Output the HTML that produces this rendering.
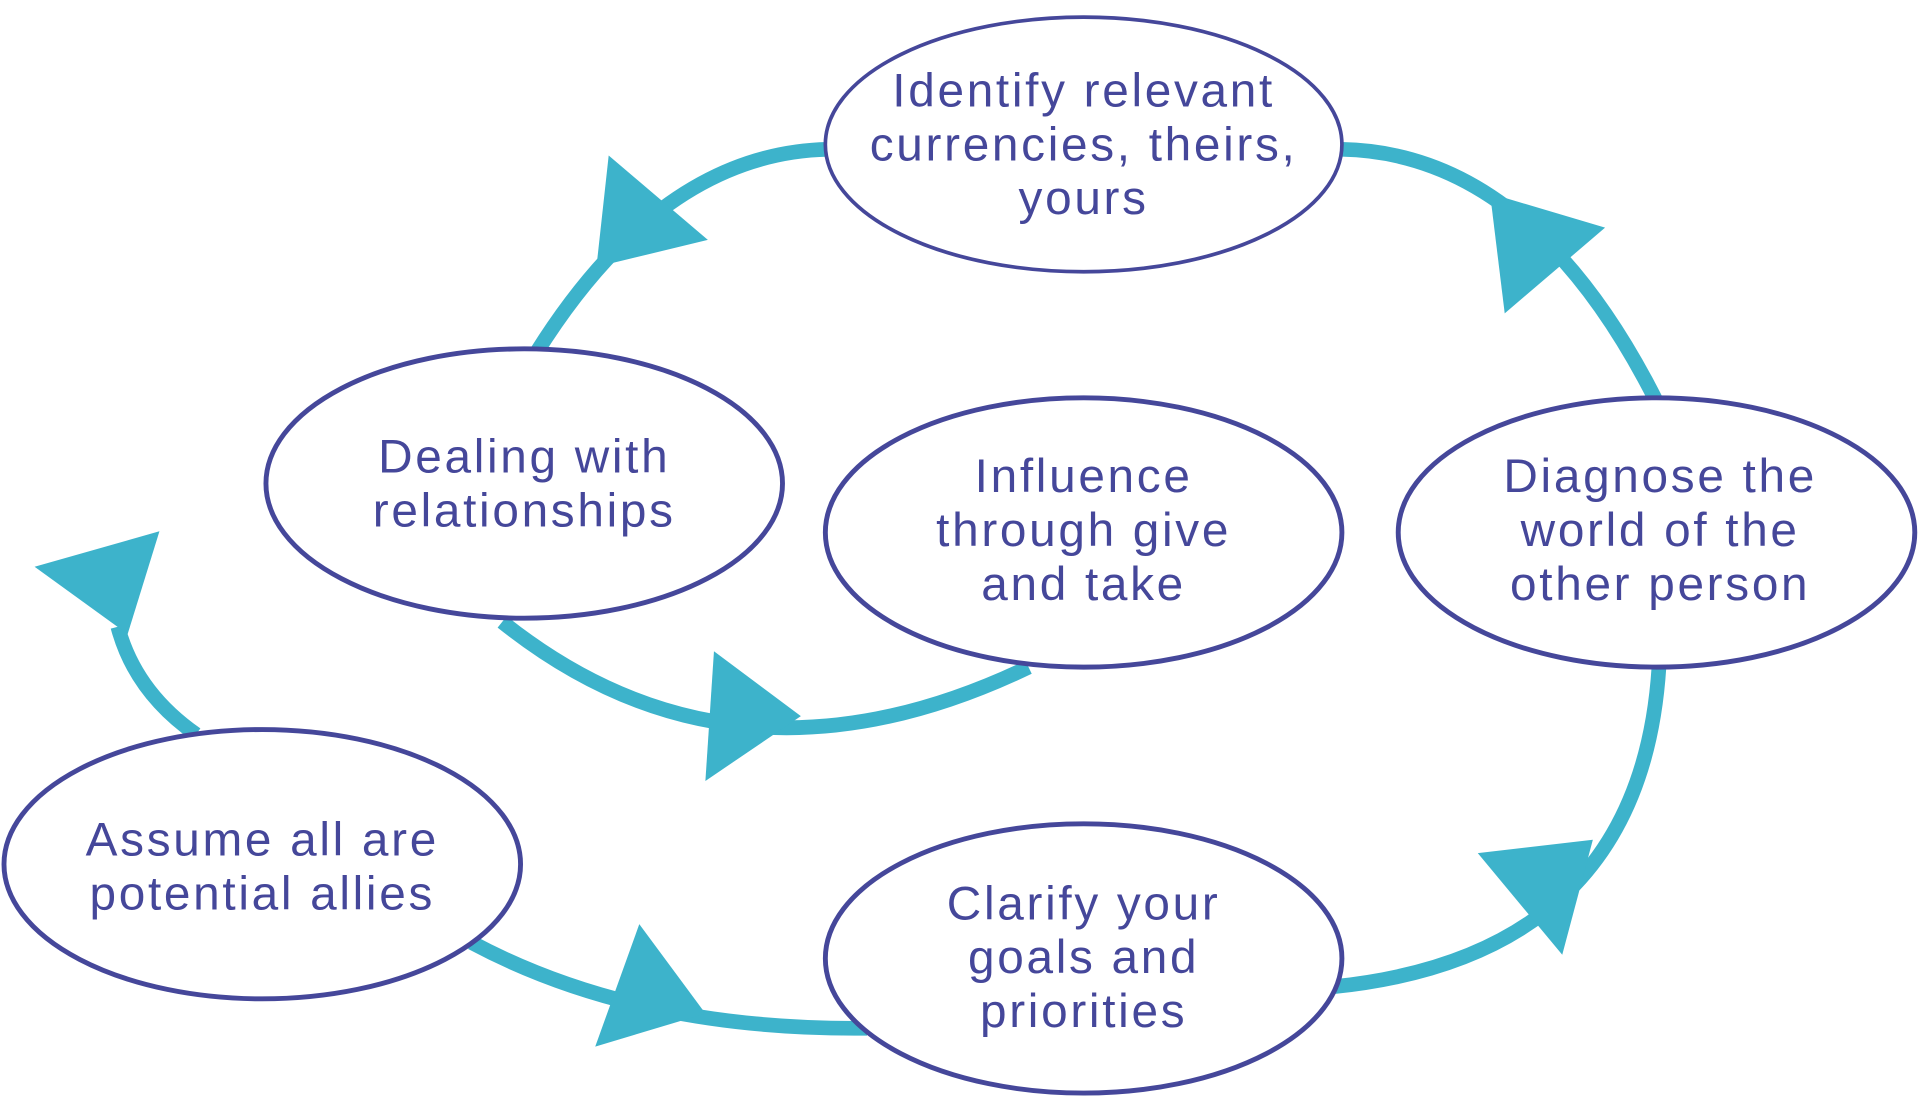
<!DOCTYPE html>
<html><head><meta charset="utf-8"><style>
html,body{margin:0;padding:0;background:#fff;}
svg{display:block;}
text{font-family:"Liberation Sans",sans-serif;font-size:39px;letter-spacing:2.2px;fill:#45479a;text-anchor:middle;}
</style></head><body>
<svg width="1920" height="1098" viewBox="0 0 1568 897" xmlns="http://www.w3.org/2000/svg">
<g fill="none" stroke="#3db3cb" stroke-width="12">
<path d="M676,122 Q540,125 438,288"/>
<path d="M1096,122 Q1250,125 1352,326"/>
<path d="M1355,545 Q1340,780 1090,806"/>
<path d="M385,770 Q520,842 708,840"/>
<path d="M160,600 Q110,565 96,512"/>
<path d="M410,508 Q600,660 840,545"/>
</g>
<g fill="#3db3cb">
<polygon points="497,127 578,196 487,218"/>
<polygon points="1311,186 1229,256 1217,158"/>
<polygon points="1207,697 1301,686 1276,780"/>
<polygon points="522,755 576,828 486,855"/>
<polygon points="28,463 130,434 104,518"/>
<polygon points="583,532 654,585 576,638"/>
</g>
<g fill="#fff" stroke="#45479a" stroke-width="4">
<ellipse cx="885" cy="118" rx="211" ry="104" stroke-width="3"/>
<ellipse cx="428" cy="395" rx="211" ry="110"/>
<ellipse cx="885" cy="435" rx="211" ry="110"/>
<ellipse cx="1353" cy="435" rx="211" ry="110"/>
<ellipse cx="214" cy="706" rx="211" ry="110"/>
<ellipse cx="885" cy="783" rx="211" ry="110"/>
</g>
<text x="885" y="87">Identify relevant</text>
<text x="885" y="131">currencies, theirs,</text>
<text x="885" y="175">yours</text>
<text x="428" y="386">Dealing with</text>
<text x="428" y="430">relationships</text>
<text x="885" y="402">Influence</text>
<text x="885" y="446">through give</text>
<text x="885" y="490">and take</text>
<text x="1356" y="402">Diagnose the</text>
<text x="1356" y="446">world of the</text>
<text x="1356" y="490">other person</text>
<text x="214" y="699">Assume all are</text>
<text x="214" y="743">potential allies</text>
<text x="885" y="751">Clarify your</text>
<text x="885" y="795">goals and</text>
<text x="885" y="839">priorities</text>
</svg>
</body></html>
